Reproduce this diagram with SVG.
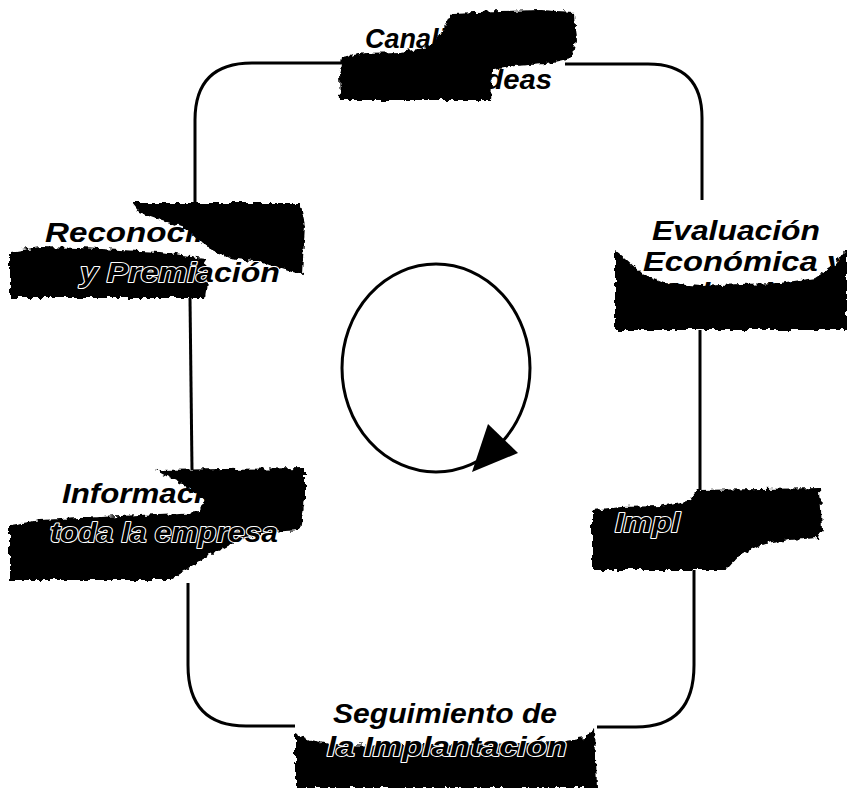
<svg xmlns="http://www.w3.org/2000/svg" width="847" height="788" viewBox="0 0 847 788">
<defs>
<filter id="rough" x="-5%" y="-10%" width="110%" height="120%">
<feTurbulence type="fractalNoise" baseFrequency="0.18" numOctaves="2" seed="3" result="n"/>
<feDisplacementMap in="SourceGraphic" in2="n" scale="7" xChannelSelector="R" yChannelSelector="G"/>
</filter>
</defs>
<style>
.bg{fill:#fff}
.ln{fill:none;stroke:#000;stroke-width:3;stroke-linecap:butt}
.bl{fill:#000}
.blot{fill:#000;filter:url(#rough)}
.t{font-family:"Liberation Sans",Arial,sans-serif;font-weight:bold;font-style:italic;font-size:28px;fill:#000}
.h{stroke:#fff;stroke-width:2;paint-order:stroke;stroke-linejoin:round}
</style>
<rect class="bg" x="0" y="0" width="847" height="788"/>
<g id="connectors">
<path class="ln" d="M195,203 L195,120 Q195,63 252,63 L345,63"/>
<path class="ln" d="M565,64 L648,64 Q702,64 702,118 L702,200"/>
<path class="ln" d="M700,330 L700,490"/>
<path class="ln" d="M694,570 L694,665 Q694,727 636,727 L597,727"/>
<path class="ln" d="M295,726 L246,726 Q188,726 188,665 L188,583"/>
<path class="ln" d="M190,298 L192,470"/>
<ellipse class="ln" cx="436" cy="368" rx="94" ry="104"/>
<polygon class="bl" points="488,424 518,453 472,472"/>
</g>
<g id="node-canalizacion">
<path class="blot" d="M452,13 L500,11 L540,10 L574,12 L576,40 L572,58 L545,64 L515,66 L492,70 L490,100 L340,100 L339,75 L342,57 L365,53 L400,52 L430,47 L442,32 Z"/>
<text class="t" x="365" y="48" textLength="165" lengthAdjust="spacingAndGlyphs">Canalización</text>
<text class="t" x="386" y="89" textLength="166" lengthAdjust="spacingAndGlyphs">de las ideas</text>
</g>
<g id="node-reconocimiento">
<path class="blot" d="M132,203 L300,203 L305,225 L302,275 L285,270 L260,262 L230,258 L212,250 L198,240 L185,228 L160,220 L140,213 Z"/>
<path class="blot" d="M10,252 L40,247 L80,248 L120,250 L160,252 L205,258 L208,275 L205,298 L10,298 Z"/>
<text class="t" x="45" y="242" textLength="258" lengthAdjust="spacingAndGlyphs">Reconocimiento</text>
<text class="t h" x="80" y="282" textLength="200" lengthAdjust="spacingAndGlyphs">y Premiación</text>
</g>
<g id="node-evaluacion">
<path class="blot" d="M615,250 L625,258 L640,272 L665,283 L700,286 L740,284 L780,283 L815,278 L835,265 L845,250 L847,250 L847,330 L615,330 Z"/>
<text class="t" x="652" y="240" textLength="168" lengthAdjust="spacingAndGlyphs">Evaluación</text>
<text class="t" x="643" y="271" textLength="202" lengthAdjust="spacingAndGlyphs">Económica y</text>
<text class="t" x="662" y="302" textLength="150" lengthAdjust="spacingAndGlyphs">Selección</text>
</g>
<g id="node-implantacion">
<path class="blot" d="M592,510 L620,507 L660,506 L690,500 L697,490 L760,489 L820,488 L822,530 L818,538 L790,540 L760,545 L740,555 L728,568 L725,570 L592,570 Z"/>
<text class="t" x="615" y="532" textLength="195" lengthAdjust="spacingAndGlyphs"><tspan class="h">Impl</tspan>antación</text>
</g>
<g id="node-informacion">
<path class="blot" d="M155,470 L305,468 L305,500 L300,530 L270,532 L240,540 L210,555 L185,570 L170,580 L10,580 L10,525 L40,520 L80,518 L120,516 L160,514 L200,512 L205,500 L190,488 L170,478 Z"/>
<text class="t" x="62" y="503" textLength="205" lengthAdjust="spacingAndGlyphs">Información a</text>
<text class="t h" x="50" y="542" textLength="228" lengthAdjust="spacingAndGlyphs">toda la empresa</text>
</g>
<g id="node-seguimiento">
<path class="blot" d="M295,733 L310,740 L330,744 L400,745 L480,744 L560,742 L585,738 L595,728 L597,788 L295,788 Z"/>
<text class="t" x="333" y="723" textLength="224" lengthAdjust="spacingAndGlyphs">Seguimiento de</text>
<text class="t h" x="327" y="756" textLength="240" lengthAdjust="spacingAndGlyphs">la Implantación</text>
</g>
</svg>
